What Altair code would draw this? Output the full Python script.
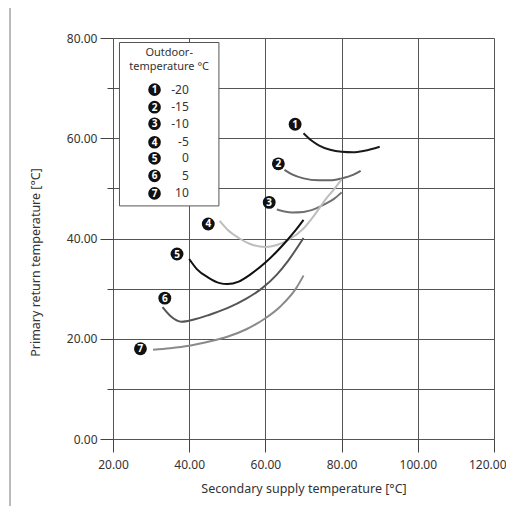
import altair as alt
import pandas as pd

# ---- curve data (secondary supply temp, primary return temp) ----
c1_x = [70, 72, 74, 77, 80, 83, 86, 90]
c1_y = [61.0, 59.6, 58.6, 57.7, 57.3, 57.2, 57.5, 58.3]
c2_x = [65, 67, 70, 74, 77, 80, 83, 85]
c2_y = [53.7, 52.8, 52.0, 51.6, 51.6, 52.0, 52.7, 53.5]
c3_x = [63, 65, 67, 70, 73, 76, 78, 80]
c3_y = [45.8, 45.4, 45.2, 45.3, 45.9, 47.0, 47.9, 49.2]
c4_x = [48, 50, 53, 56, 60, 63, 66, 70, 73, 76, 78, 80]
c4_y = [43.5, 41.8, 40.1, 38.9, 38.3, 38.7, 39.7, 42.0, 44.8, 48.0, 49.8, 51.8]
c5_x = [40, 42, 45, 48, 50, 53, 56, 60, 63, 66, 68, 70]
c5_y = [35.9, 33.9, 32.2, 31.1, 30.9, 31.4, 32.8, 35.2, 37.4, 39.9, 41.7, 43.7]
c6_x = [33, 35, 38, 41, 45, 50, 55, 59, 63, 66, 70]
c6_y = [26.3, 24.6, 23.4, 23.8, 24.7, 26.1, 28.0, 30.0, 32.8, 35.6, 40.1]
c7_x = [30.5, 35, 40, 45, 50, 55, 60, 64, 68, 70]
c7_y = [17.8, 18.1, 18.6, 19.4, 20.4, 21.9, 24.1, 26.5, 30.0, 32.6]

curve_ids = ["1", "2", "3", "4", "5", "6", "7"]
curve_colors = ["#1a1a1a", "#666666", "#707070", "#bdbdbd", "#111111", "#555555", "#8a8a8a"]
outdoor_temps = ["-20", "-15", "-10", "-5", "0", "5", "10"]

# curve number markers
marker_x = [67.8, 63.4, 61.0, 45.0, 36.8, 33.6, 27.2]
marker_y = [62.8, 54.9, 47.2, 42.9, 36.9, 28.1, 18.0]

# legend box layout (data coordinates)
legend_box = {"x": 21.7, "x2": 47.8, "y": 79.1, "y2": 46.5}
legend_title = "Outdoor-\ntemperature °C"
legend_title_y = 78.2
legend_row_y = [69.7, 66.2, 62.9, 59.2, 56.0, 52.5, 49.0]
legend_marker_x = 30.9
legend_text_x = 39.9

x_ticks = list(range(20, 121, 10))
y_ticks = list(range(0, 81, 10))

FONT = "Noto Sans"

rows = []
for cid, xs, ys in zip(curve_ids, [c1_x, c2_x, c3_x, c4_x, c5_x, c6_x, c7_x],
                       [c1_y, c2_y, c3_y, c4_y, c5_y, c6_y, c7_y]):
    for i, (xv, yv) in enumerate(zip(xs, ys)):
        rows.append({"curve": cid, "x": xv, "y": yv, "i": i})
curves_df = pd.DataFrame(rows)

markers_df = pd.DataFrame({"curve": curve_ids, "x": marker_x, "y": marker_y})
leg_markers_df = pd.DataFrame({"curve": curve_ids, "x": [legend_marker_x] * 7,
                               "y": legend_row_y, "t": outdoor_temps,
                               "tx": [legend_text_x] * 7})
leg_title_df = pd.DataFrame({"t": [legend_title], "y": [legend_title_y],
                             "x": [(legend_box["x"] + legend_box["x2"]) / 2]})
box_df = pd.DataFrame([legend_box])

xscale = alt.Scale(domain=[20, 120], nice=False, zero=False)
yscale = alt.Scale(domain=[0, 80], nice=False, zero=False)

major_x = "datum.value % 20 === 0"
last_x = "datum.value === 120"
xaxis = alt.Axis(
    values=x_ticks,
    labelExpr=f"{major_x} ? format(datum.value, '.2f') : ''",
    tickSize={"condition": {"test": major_x, "value": 13}, "value": 6},
    grid=True, gridColor="#555555", gridWidth=1, gridOpacity=1,
    domain=False, tickColor="#444444", tickWidth=1, labelFlush=False,
    labelOverlap=False,
    labelAlign={"condition": {"test": last_x, "value": "right"}, "value": "center"},
    labelOffset={"condition": {"test": last_x, "value": 12}, "value": 0},
    labelFont=FONT, labelFontSize=12, labelColor="#333333", labelPadding=7,
    title="Secondary supply temperature [°C]", titleFont=FONT, titleFontSize=12.5,
    titleFontWeight="normal", titleColor="#333333", titleY=49, titleBaseline="middle",
)
major_y = "datum.value % 20 === 0"
yaxis = alt.Axis(
    values=y_ticks,
    labelExpr=f"{major_y} ? format(datum.value, '.2f') : ''",
    tickSize={"condition": {"test": major_y, "value": 13}, "value": 6},
    grid=True, gridColor="#555555", gridWidth=1, gridOpacity=1,
    domain=False, tickColor="#444444", tickWidth=1, labelFlush=False,
    labelOverlap=False,
    labelFont=FONT, labelFontSize=12, labelColor="#333333", labelPadding=3,
    title="Primary return temperature [°C]", titleFont=FONT, titleFontSize=12.5,
    titleFontWeight="normal", titleColor="#333333", titleAngle=270,
    titleX=-78, titleY=224, titleAlign="center", titleBaseline="middle",
)

color_scale = alt.Scale(domain=curve_ids, range=curve_colors)

lines = alt.Chart(curves_df).mark_line(strokeWidth=2, interpolate="monotone").encode(
    x=alt.X("x:Q", scale=xscale, axis=xaxis),
    y=alt.Y("y:Q", scale=yscale, axis=yaxis),
    color=alt.Color("curve:N", scale=color_scale, legend=None),
    detail="curve:N",
    order="i:Q",
)

box = alt.Chart(box_df).mark_rect(fill="white", stroke="#555555", strokeWidth=1).encode(
    x="x:Q", x2="x2:Q", y="y:Q", y2="y2:Q")

ltitle = alt.Chart(leg_title_df).mark_text(font=FONT, fontSize=11, color="#333333",
                                           align="center", baseline="top",
                                           lineBreak="\n", lineHeight=13.5).encode(
    x="x:Q", y="y:Q", text="t:N")

def num_markers(df, size):
    dots = alt.Chart(df).mark_point(filled=True, shape="circle", size=size, color="#111111",
                                    opacity=1).encode(x="x:Q", y="y:Q")
    nums = alt.Chart(df).mark_text(font=FONT, fontSize=10, fontWeight="bold", color="white",
                                   align="center", baseline="middle", dy=0.5).encode(
        x="x:Q", y="y:Q", text="curve:N")
    return dots + nums

lmark = num_markers(leg_markers_df, 160)
ltext = alt.Chart(leg_markers_df).mark_text(font=FONT, fontSize=12, color="#333333",
                                            align="right", baseline="middle").encode(
    x="tx:Q", y="y:Q", text="t:N")
cmark = num_markers(markers_df, 165)

frame = alt.Chart(pd.DataFrame({"a": [0]})).mark_rule(color="#777777", strokeWidth=1)
frame_left = frame.encode(x=alt.value(-103), y=alt.value(-34), y2=alt.value(600))
frame_top = frame.encode(x=alt.value(-103), x2=alt.value(600), y=alt.value(-34))

chart = alt.layer(box, lines, ltitle, lmark, ltext, cmark, frame_left, frame_top).properties(
    width=381, height=401,
    autosize=alt.AutoSizeParams(type="none"),
    padding={"left": 105, "top": 30, "right": 12, "bottom": 67},
).configure_view(stroke="#111111", strokeWidth=2).configure(background="white")

chart.save("out.html", embed_options={"renderer": "svg", "actions": False})
